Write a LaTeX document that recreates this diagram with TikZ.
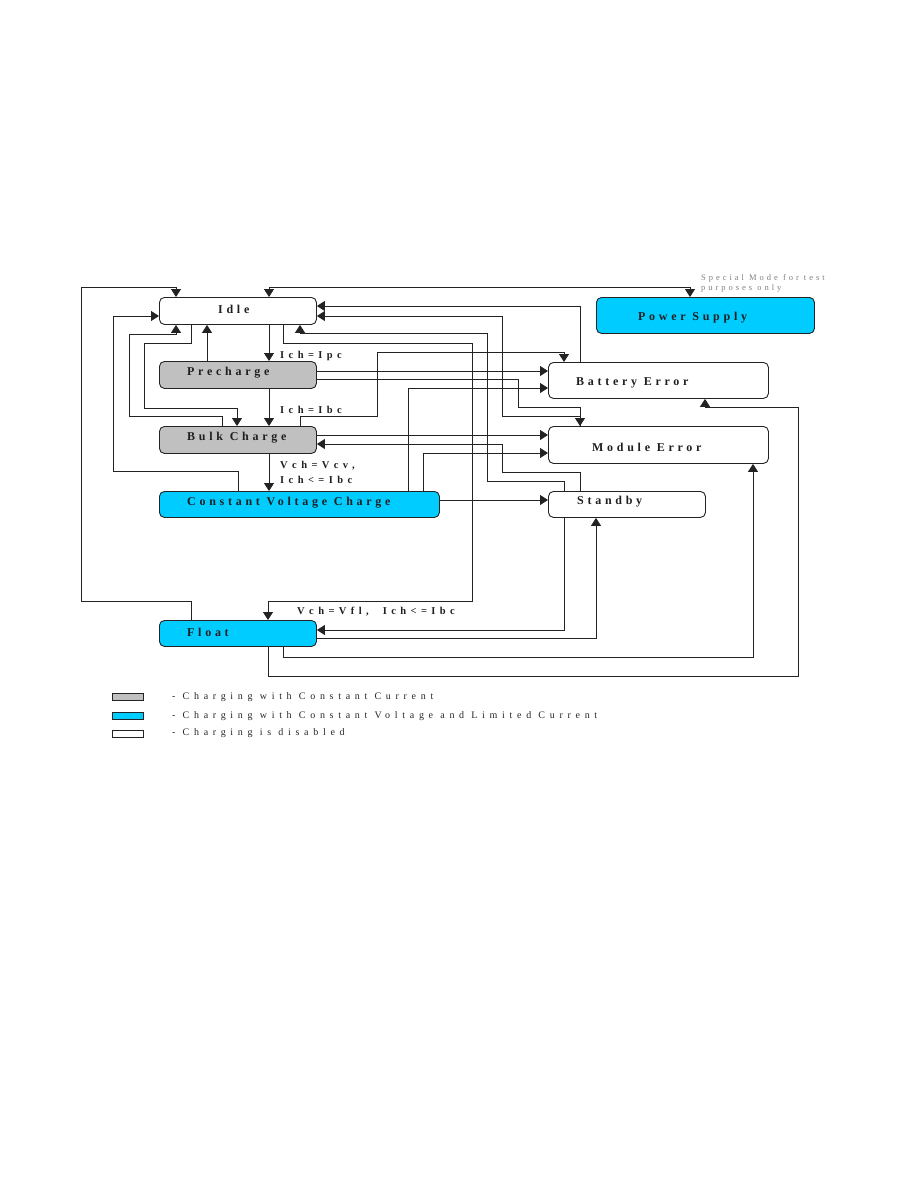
\documentclass[tikz,border=0pt]{standalone}
\usepackage{fontspec}
\setmainfont{Liberation Serif}
\newfontfamily\boxfont{Liberation Serif}[LetterSpace=31]
\newfontfamily\lblfont{Liberation Serif}[LetterSpace=42]
\newfontfamily\legfont{Liberation Serif}[LetterSpace=47]
\newfontfamily\notefont{Liberation Serif}[LetterSpace=35]
\usetikzlibrary{arrows.meta}
\definecolor{gfill}{RGB}{192,192,192}
\definecolor{cfill}{RGB}{0,204,255}
\definecolor{lcol}{RGB}{35,35,35}
\begin{document}
\begin{tikzpicture}[x=1pt,y=-1pt,
  box/.style={draw=lcol,line width=0.9pt,rounded corners=5pt,inner sep=0pt,anchor=north west,minimum width=157pt,minimum height=27pt},
  gbox/.style={box,fill=gfill},
  cbox/.style={box,fill=cfill},
  wbox/.style={box,fill=white},
  btxt/.style={font=\boxfont\bfseries\fontsize{12}{14}\selectfont,inner sep=0pt,anchor=west,text=black!88},
  ltxt/.style={font=\lblfont\bfseries\fontsize{10.5}{12}\selectfont,inner sep=0pt,anchor=west,text=black!88},
  gtxt/.style={font=\legfont\fontsize{10}{12}\selectfont,inner sep=0pt,anchor=west,text=black!85},
  ntxt/.style={font=\notefont\fontsize{8.5}{10}\selectfont,inner sep=0pt,anchor=west,text=black!50},
  lgbox/.style={draw=lcol,line width=0.8pt,inner sep=0pt,anchor=north west,minimum width=31pt,minimum height=7pt},
  arr/.style={draw=lcol,line width=0.9pt,-{Triangle[width=10pt,length=8pt]}},
  arrb/.style={draw=lcol,line width=0.9pt,{Triangle[width=10pt,length=8pt]}-{Triangle[width=10pt,length=8pt]}}
]
\useasboundingbox (0,0) rectangle (918,1188);
\fill[white] (0,0) rectangle (918,1188);

% boxes
\node[wbox] (idle) at (159,297) {};
\node[gbox] (pre) at (159,361) {};
\node[gbox] (bulk) at (159,426) {};
\node[cbox,minimum width=280pt,minimum height=26pt] (cvc) at (159,491) {};
\node[cbox,minimum height=26pt] (flt) at (159,620) {};
\node[cbox,minimum width=218pt,minimum height=36pt] (ps) at (596,297) {};
\node[wbox,minimum width=220pt,minimum height=36pt] (be) at (548,362) {};
\node[wbox,minimum width=220pt,minimum height=37pt] (me) at (548,426) {};
\node[wbox,minimum height=26pt] (sb) at (548,491) {};

% box texts
\node[btxt] (tidle) at (218,309) {Idle};
\node[btxt] (tpre) at (187,373) {Precharge};
\node[btxt] (tbulk) at (187,438) {Bulk Charge};
\node[btxt] (tcvc) at (187,503) {Constant Voltage Charge};
\node[btxt] (tflt) at (187,632) {Float};
\node[btxt] (tps) at (638,318) {Power Supply};
\node[btxt] (tbe) at (576,383) {Battery Error};
\node[btxt] (tme) at (592,447) {Module Error};
\node[btxt] (tsb) at (577,502) {Standby};

% note
\node[ntxt] (n1) at (701,278) {Special Mode for test};
\node[ntxt] (n2) at (701,288) {purposes only};

% transition labels
\node[ltxt] (l1) at (280,356) {Ich=Ipc};
\node[ltxt] (l2) at (280,410) {Ich=Ibc};
\node[ltxt] (l3) at (280,466) {Vch=Vcv,};
\node[ltxt] (l4) at (280,480) {Ich<=Ibc};
\node[ltxt] (l5) at (297,612) {Vch=Vfl,\ \ Ich<=Ibc};

% connectors
\draw[arr] (191,0 |- flt.north) -- (191,601) -- (81,601) -- (81,287) -- (176,287) -- (176,0 |- idle.north);
\draw[arrb] (269,0 |- idle.north) -- (269,287) -- (690,287) -- (690,0 |- ps.north);
\draw[arr] (238,0 |- cvc.north) -- (238,471) -- (113,471) -- (113,316) -- (idle.west |- 0,316);
\draw[arr] (222,0 |- bulk.north) -- (222,416) -- (129,416) -- (129,334) -- (176,334) -- (176,0 |- idle.south);
\draw[arr] (191,0 |- idle.south) -- (191,343) -- (144,343) -- (144,408) -- (237,408) -- (237,0 |- bulk.north);
\draw[arr] (207,0 |- pre.north) -- (207,0 |- idle.south);
\draw[arr] (269,0 |- idle.south) -- (269,0 |- pre.north);
\draw[arr] (269,0 |- pre.south) -- (269,0 |- bulk.north);
\draw[arr] (269,0 |- bulk.south) -- (269,0 |- cvc.north);
\draw[arr] (580,0 |- be.north) -- (580,306) -- (idle.east |- 0,306);
\draw[arr] (580,0 |- me.north) -- (580,416) -- (502,416) -- (502,316) -- (idle.east |- 0,316);
\draw[arr] (564,0 |- sb.north) -- (564,481) -- (487,481) -- (487,333) -- (300,333) -- (300,0 |- idle.south);
\draw[arr] (283,0 |- idle.south) -- (283,343) -- (472,343) -- (472,601) -- (268,601) -- (268,0 |- flt.north);
\draw[arr] (pre.east |- 0,371) -- (be.west |- 0,371);
\draw[arr] (pre.east |- 0,379) -- (518,379) -- (518,407) -- (580,407) -- (580,0 |- me.north);
\draw[arr] (408,0 |- cvc.north) -- (408,388) -- (be.west |- 0,388);
\draw[arr] (300,0 |- bulk.north) -- (300,416) -- (377,416) -- (377,352) -- (564,352) -- (564,0 |- be.north);
\draw[arr] (bulk.east |- 0,435) -- (me.west |- 0,435);
\draw[arr] (580,0 |- sb.north) -- (580,472) -- (502,472) -- (502,444) -- (bulk.east |- 0,444);
\draw[arr] (423,0 |- cvc.north) -- (423,453) -- (me.west |- 0,453);
\draw[arr] (cvc.east |- 0,500) -- (sb.west |- 0,500);
\draw[arr] (564,0 |- sb.south) -- (564,630) -- (flt.east |- 0,630);
\draw[arr] (flt.east |- 0,638) -- (596,638) -- (596,0 |- sb.south);
\draw[arr] (283,0 |- flt.south) -- (283,657) -- (753,657) -- (753,0 |- me.south);
\draw[arr] (268,0 |- flt.south) -- (268,676) -- (798,676) -- (798,407) -- (705,407) -- (705,0 |- be.south);

% legend
\node[lgbox,fill=gfill] (lg1) at (112,693) {};
\node[lgbox,fill=cfill] (lg2) at (112,712) {};
\node[lgbox,fill=white] (lg3) at (112,730) {};
\node[gtxt] (lt1) at (172,697) {- Charging with Constant Current};
\node[gtxt] (lt2) at (172,716) {- Charging with Constant Voltage and Limited Current};
\node[gtxt] (lt3) at (172,733) {- Charging is disabled};
\end{tikzpicture}
\end{document}
